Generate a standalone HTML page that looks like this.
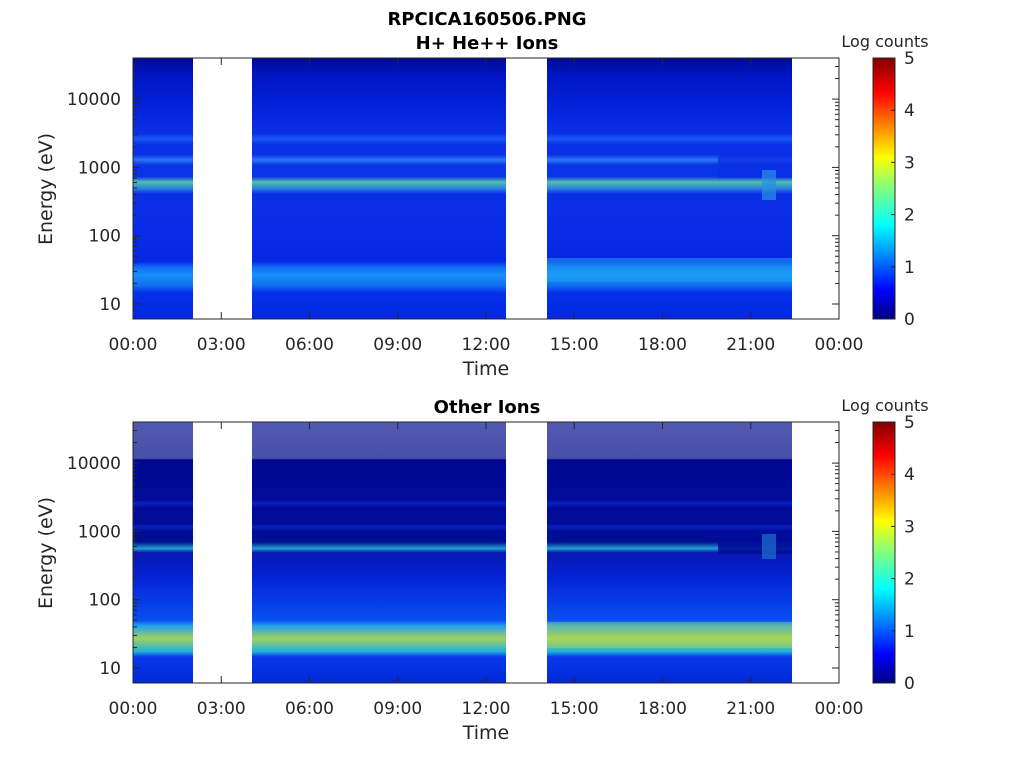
<!DOCTYPE html>
<html><head><meta charset="utf-8"><style>
html,body{margin:0;padding:0;background:#fff;}
svg text{font-family:"DejaVu Sans","Liberation Sans",sans-serif;fill:#262626;}
</style></head><body>
<svg id="s" width="1024" height="768" xmlns="http://www.w3.org/2000/svg">
<defs>
<linearGradient id="gt" x1="0" y1="0" x2="0" y2="1">
<stop offset="0" stop-color="#000a90"/>
<stop offset="0.06" stop-color="#0014c0"/>
<stop offset="0.2" stop-color="#0424dc"/>
<stop offset="0.29" stop-color="#0a30e6"/>
<stop offset="0.31" stop-color="#1a58f4"/>
<stop offset="0.33" stop-color="#0a30e6"/>
<stop offset="0.37" stop-color="#0a30e6"/>
<stop offset="0.39" stop-color="#2a78f0"/>
<stop offset="0.41" stop-color="#0a34e6"/>
<stop offset="0.455" stop-color="#0a34e8"/>
<stop offset="0.475" stop-color="#50c0a8"/>
<stop offset="0.5" stop-color="#2a80e0"/>
<stop offset="0.52" stop-color="#0a30e6"/>
<stop offset="0.78" stop-color="#0628e4"/>
<stop offset="0.8" stop-color="#1068f4"/>
<stop offset="0.83" stop-color="#1890f8"/>
<stop offset="0.87" stop-color="#1070f0"/>
<stop offset="0.9" stop-color="#0430e8"/>
<stop offset="1" stop-color="#0028e0"/>
</linearGradient>
<linearGradient id="gb" x1="0" y1="0" x2="0" y2="1">
<stop offset="0" stop-color="#5058b0"/>
<stop offset="0.14" stop-color="#4850a8"/>
<stop offset="0.145" stop-color="#000890"/>
<stop offset="0.3" stop-color="#000c98"/>
<stop offset="0.31" stop-color="#0a20c0"/>
<stop offset="0.33" stop-color="#000c98"/>
<stop offset="0.39" stop-color="#000c98"/>
<stop offset="0.4" stop-color="#0a20c0"/>
<stop offset="0.42" stop-color="#000c98"/>
<stop offset="0.46" stop-color="#001090"/>
<stop offset="0.485" stop-color="#20a0d0"/>
<stop offset="0.5" stop-color="#0818b0"/>
<stop offset="0.6" stop-color="#0424d8"/>
<stop offset="0.76" stop-color="#0850f0"/>
<stop offset="0.78" stop-color="#20a0f0"/>
<stop offset="0.83" stop-color="#a0d060"/>
<stop offset="0.88" stop-color="#20b0e0"/>
<stop offset="0.9" stop-color="#0838e8"/>
<stop offset="1" stop-color="#0028d8"/>
</linearGradient>
<linearGradient id="jet" x1="0" y1="1" x2="0" y2="0">
<stop offset="0" stop-color="#000080"/>
<stop offset="0.11" stop-color="#0000ff"/>
<stop offset="0.36" stop-color="#00ffff"/>
<stop offset="0.5" stop-color="#80ff80"/>
<stop offset="0.62" stop-color="#ffff00"/>
<stop offset="0.87" stop-color="#ff0000"/>
<stop offset="1" stop-color="#800000"/>
</linearGradient>
</defs>
<g id="g"></g>
</svg>
<script>
var g=document.getElementById('g'),h='';
function T(x,y,t,a,s,w){h+='<text x="'+x+'" y="'+y+'" text-anchor="'+(a||'middle')+'" font-size="'+(s||17)+'" '+(w?'font-weight="bold"':'')+'>'+t+'</text>';}
h+='<text x="487" y="25" text-anchor="middle" font-size="18" font-weight="bold" style="fill:#000">RPCICA160506.PNG</text>';
h+='<text x="487" y="49" text-anchor="middle" font-size="18" font-weight="bold" style="fill:#000">H+ He++ Ions</text>';
h+='<text x="487" y="413" text-anchor="middle" font-size="18" font-weight="bold" style="fill:#000">Other Ions</text>';
var times=['00:00','03:00','06:00','09:00','12:00','15:00','18:00','21:00','00:00'];
[0,364].forEach(function(o,i){
 var top=58+o,bot=319+o;
 h+='<rect x="133" y="'+top+'" width="706" height="261" fill="url(#'+(i?'gb':'gt')+')"/>';
 if(i==0){h+='<rect x="718" y="'+(top+90)+'" width="74" height="30" fill="#0a30e6" opacity="0.85"/>';
   h+='<rect x="762" y="'+(top+112)+'" width="14" height="30" fill="#2a90e0" opacity="0.7"/>';
   h+='<rect x="547" y="'+(top+200)+'" width="245" height="24" fill="#20a8f4" opacity="0.5"/>';}
 else{h+='<rect x="718" y="'+(top+112)+'" width="74" height="20" fill="#000c98" opacity="0.9"/>';
   h+='<rect x="762" y="'+(top+112)+'" width="14" height="25" fill="#2070d0" opacity="0.7"/>';
   h+='<rect x="547" y="'+(top+200)+'" width="245" height="26" fill="#c0e040" opacity="0.35"/>';}
 h+='<rect x="193" y="'+top+'" width="59" height="262" fill="#fff"/>';
 h+='<rect x="506" y="'+top+'" width="41" height="262" fill="#fff"/>';
 h+='<rect x="792" y="'+top+'" width="47" height="262" fill="#fff"/>';
 h+='<rect x="133" y="'+top+'" width="706" height="261" fill="none" stroke="#262626" stroke-width="1"/>';
 for(var k=0;k<9;k++){var x=133+k*88.25;h+='<line x1="'+x+'" y1="'+bot+'" x2="'+x+'" y2="'+(bot-7)+'" stroke="#262626"/><line x1="'+x+'" y1="'+top+'" x2="'+x+'" y2="'+(top+7)+'" stroke="#262626"/>';T(x,bot+31,times[k]);}
 T(486,bot+56,'Time','middle',19);
 for(var d=0;d<5;d++)for(var m=1;m<10;m++){var v=d+Math.log10(m);var y=304+o-68.3*v;if(y<top||y>bot)continue;var L=m==1?7:4;
  h+='<line x1="133" y1="'+y+'" x2="'+(133+L)+'" y2="'+y+'" stroke="#262626"/><line x1="839" y1="'+y+'" x2="'+(839-L)+'" y2="'+y+'" stroke="#262626"/>';
  if(m==1){T(121,y+6,[10,100,1000,10000,100000][d],'end');}}
 h+='<text transform="translate(52,'+(189+o)+') rotate(-90)" text-anchor="middle" font-size="19">Energy (eV)</text>';
 h+='<rect x="873" y="'+top+'" width="22" height="261" fill="url(#jet)" stroke="#262626"/>';
 for(var c=0;c<6;c++){var y=bot-c*52.2;h+='<line x1="895" y1="'+y+'" x2="891" y2="'+y+'" stroke="#262626"/>';T(904,y+6,c,'start');}
 T(885,top-11,'Log counts','middle',16);
});
g.innerHTML=h;
</script>
</body></html>
